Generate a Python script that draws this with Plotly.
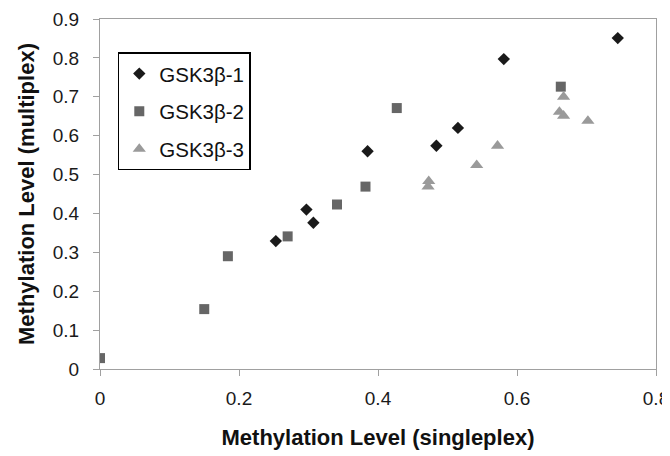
import plotly.graph_objects as go

series_names = ["GSK3β-1", "GSK3β-2", "GSK3β-3"]
gsk1_x = [0.253, 0.297, 0.307, 0.385, 0.484, 0.515, 0.581, 0.745]
gsk1_y = [0.329, 0.410, 0.376, 0.560, 0.574, 0.620, 0.797, 0.851]
gsk2_x = [0.0, 0.150, 0.184, 0.270, 0.341, 0.382, 0.427, 0.663]
gsk2_y = [0.028, 0.154, 0.290, 0.341, 0.423, 0.469, 0.671, 0.726]
gsk3_x = [0.472, 0.473, 0.542, 0.572, 0.661, 0.667, 0.667, 0.702]
gsk3_y = [0.469, 0.483, 0.524, 0.574, 0.661, 0.651, 0.700, 0.638]

x_ticks = [0, 0.2, 0.4, 0.6, 0.8]
x_tick_labels = ["0", "0.2", "0.4", "0.6", "0.8"]
y_ticks = [0, 0.1, 0.2, 0.3, 0.4, 0.5, 0.6, 0.7, 0.8, 0.9]
y_tick_labels = ["0", "0.1", "0.2", "0.3", "0.4", "0.5", "0.6", "0.7", "0.8", "0.9"]

styles = [
    dict(symbol="diamond", color="#1a1a1a", size=9.5),
    dict(symbol="square", color="#666666", size=10),
    dict(symbol="triangle-up", color="#9a9a9a", size=11.5),
]
data = [(gsk1_x, gsk1_y), (gsk2_x, gsk2_y), (gsk3_x, gsk3_y)]

fig = go.Figure()
for i, (name, (xs, ys), st) in enumerate(zip(series_names, data, styles)):
    fig.add_trace(go.Scatter(
        x=xs, y=ys, mode="markers", name=name, legendgroup=f"g{i}",
        marker=dict(symbol=st["symbol"], color=st["color"], size=st["size"], line=dict(width=0)),
    ))

FONT = "Liberation Sans, Arial"
axis_common = dict(
    showgrid=False, zeroline=False, showline=True, linecolor="#a0a0a0", linewidth=1.2,
    mirror=True, ticks="outside", ticklen=6, tickcolor="#a0a0a0", tickwidth=1.2,
    tickfont=dict(family=FONT, size=19, color="#1a1a1a"), automargin=False,
)

fig.update_layout(
    width=662, height=448,
    margin=dict(l=92, r=14, t=11, b=87),
    paper_bgcolor="white", plot_bgcolor="white",
    xaxis=dict(range=[0, 0.8], tickvals=x_ticks, ticktext=x_tick_labels,
               ticklabelstandoff=6,
               title=dict(text="<b>Methylation Level (singleplex)</b>", standoff=21,
                          font=dict(family=FONT, size=22, color="#111")),
               **axis_common),
    yaxis=dict(range=[0, 0.9], tickvals=y_ticks, ticktext=y_tick_labels,
               ticklabelstandoff=10,
               title=dict(text="<b>Methylation Level (multiplex)</b>", standoff=11,
                          font=dict(family=FONT, size=22, color="#111")),
               **axis_common),
    legend=dict(x=0.032, y=0.905, xanchor="left", yanchor="top",
                bordercolor="black", borderwidth=1.5, bgcolor="white",
                font=dict(family=FONT, size=20.5, color="#111"),
                tracegroupgap=8),
    showlegend=True,
)

fig.write_html("out.html")
